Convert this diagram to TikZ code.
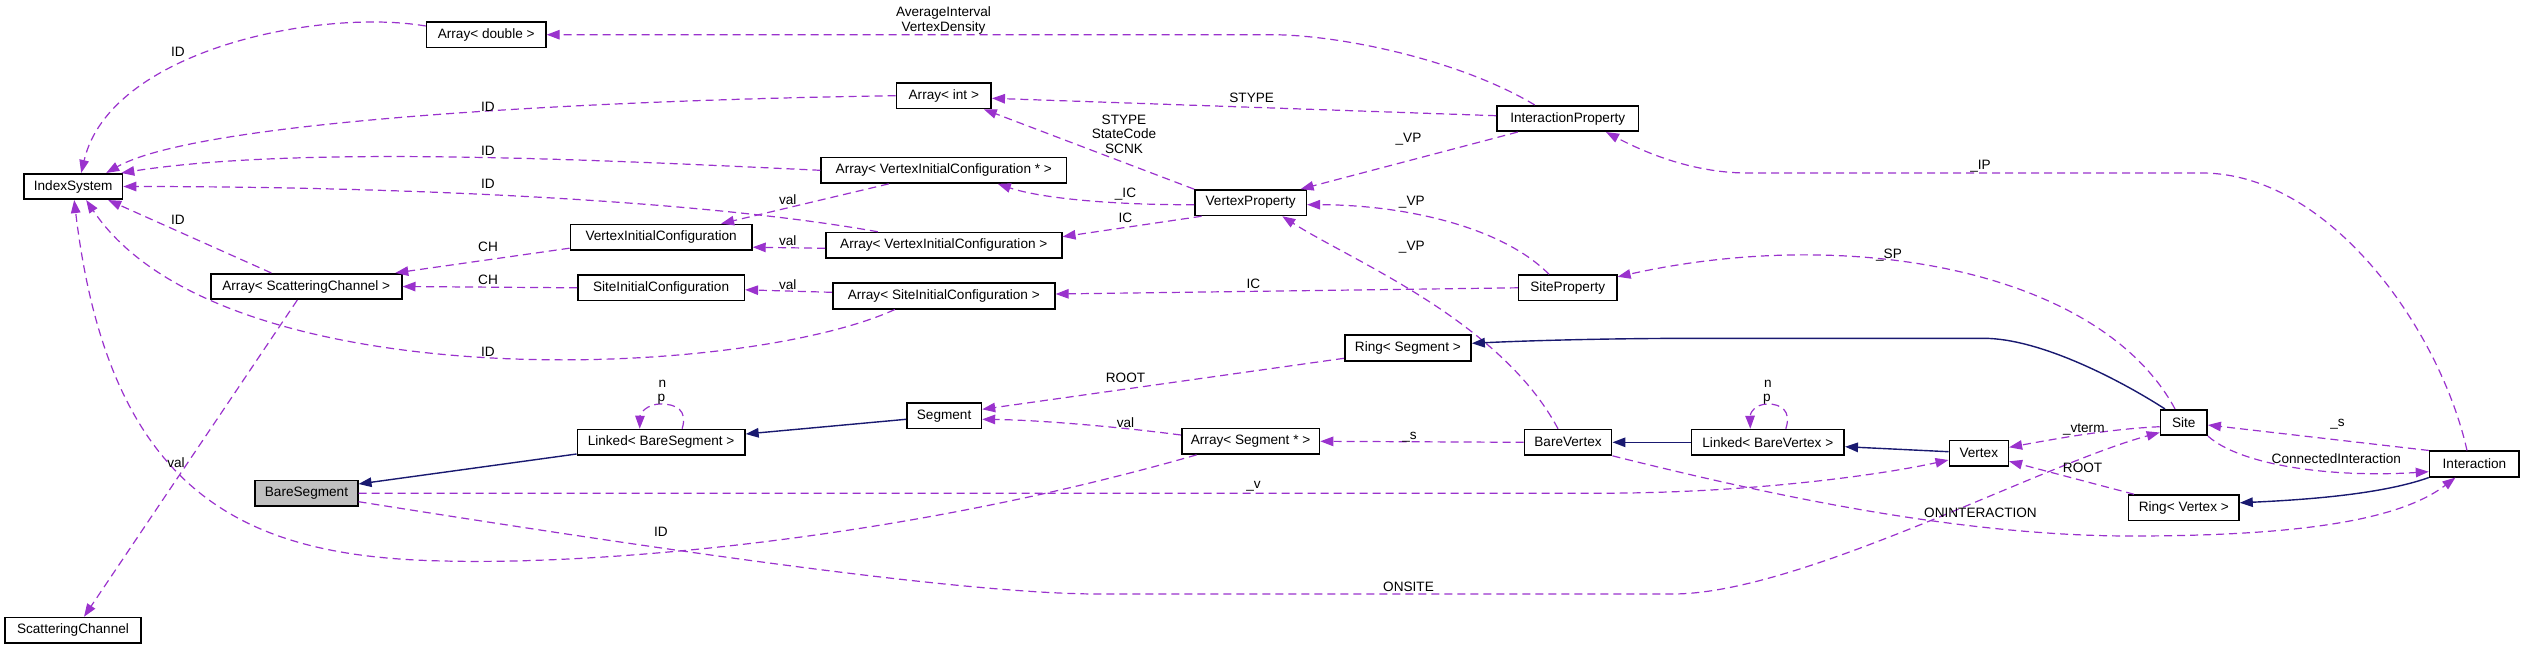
\documentclass[tikz,border=0pt]{standalone}
\usepackage{fontspec}
\setmainfont{Liberation Sans}
\usetikzlibrary{arrows.meta}
\definecolor{usec}{HTML}{9A32CD}
\definecolor{inhc}{HTML}{191970}
\definecolor{boxg}{HTML}{BFBFBF}
\tikzset{
  box/.style={draw=black, line width=1.6pt, fill=white, minimum height=25.5pt, inner sep=0pt,
    font=\fontsize{13.6}{15}\selectfont},
  lbl/.style={inner sep=0pt, font=\fontsize{13.6}{15}\selectfont, align=center},
  use/.style={draw=usec, line width=1.2pt, dash pattern=on 8pt off 5pt,
    -{Triangle[length=13pt,width=9.5pt]}},
  inh/.style={draw=inhc, line width=1.4pt, -{Triangle[length=13pt,width=9.5pt]}},
}
\begin{document}
\begin{tikzpicture}[x=1pt,y=-1pt]
\useasboundingbox (0,0) rectangle (2525,649);
% nodes
\node[box,minimum width=98.6pt] (IS) at (73.2,186.5) {IndexSystem};
\node[box,minimum width=119.3pt] (AD) at (486.2,34.7) {Array< double >};
\node[box,minimum width=94.8pt] (AI) at (943.8,95.7) {Array< int >};
\node[box,minimum width=141.8pt] (IP) at (1567.7,118.5) {InteractionProperty};
\node[box,minimum width=245.1pt] (AVp) at (943.8,170.3) {Array< VertexInitialConfiguration * >};
\node[box,minimum width=111.4pt] (VP) at (1250.6,202.7) {VertexProperty};
\node[box,minimum width=181.6pt] (VIC) at (661.1,237.2) {VertexInitialConfiguration};
\node[box,minimum width=235.9pt] (AV) at (943.8,245.3) {Array< VertexInitialConfiguration >};
\node[box,minimum width=190.8pt] (ASC) at (306.3,286.5) {Array< ScatteringChannel >};
\node[box,minimum width=166.4pt] (SIC) at (661.1,287.8) {SiteInitialConfiguration};
\node[box,minimum width=222.1pt] (AS) at (943.8,296) {Array< SiteInitialConfiguration >};
\node[box,minimum width=98.2pt] (SP) at (1567.7,287.8) {SiteProperty};
\node[box,minimum width=126.3pt] (RS) at (1407.9,348) {Ring< Segment >};
\node[box,minimum width=74.6pt] (Seg) at (944.1,415.8) {Segment};
\node[box,minimum width=167.5pt] (LBS) at (661.1,442.3) {Linked< BareSegment >};
\node[box,minimum width=137.8pt] (ASP) at (1250.6,441.3) {Array< Segment * >};
\node[box,minimum width=87.3pt] (BV) at (1568,442.3) {BareVertex};
\node[box,minimum width=152.8pt] (LBV) at (1767.8,442.3) {Linked< BareVertex >};
\node[box,minimum width=59pt] (V) at (1978.8,453.3) {Vertex};
\node[box,minimum width=46.6pt] (S) at (2183.8,422.5) {Site};
\node[box,minimum width=89.7pt] (I) at (2474.4,464) {Interaction};
\node[box,minimum width=110.4pt] (RV) at (2183.8,507.8) {Ring< Vertex >};
\node[box,fill=boxg,minimum width=102.5pt] (BS) at (306.5,493.2) {BareSegment};
\node[box,minimum width=136pt] (SC) at (73,630.3) {ScatteringChannel};
% usage edges to IndexSystem
\draw[use] ([yshift=8.7pt]AD.west) .. controls (320,8) and (110,50) .. ([xshift=8pt]IS.north);
\draw[use] (AI.west) .. controls (600,100) and (200,120) .. ([xshift=33pt]IS.north);
\draw[use] (AVp.west) .. controls (600,160) and (300,145) .. ([xshift=-2pt]IS.north east);
\draw[use] ([xshift=-66pt]AV.north) .. controls (700,200) and (400,186.5) .. (IS.east);
\draw[use] ([xshift=-35pt]ASC.north) -- ([xshift=35pt]IS.south);
\draw[use] ([xshift=-49pt]AS.south) .. controls (740,380) and (220,400) .. ([xshift=13pt]IS.south);
\draw[use] ([xshift=-54pt]ASP.south) .. controls (900,540) and (600,565) .. (444,561)
  .. controls (250,557) and (110,500) .. ([xshift=1pt]IS.south);
% other usage edges
\draw[use] ([yshift=-11pt]VIC.west) -- ([xshift=89pt]ASC.north);
\draw[use] (SIC.west) -- (ASC.east);
\draw[use] ([xshift=-55pt]AVp.south) -- ([xshift=60pt]VIC.north);
\draw[use] ([yshift=-3pt]AV.west) -- ([yshift=-10pt]VIC.east);
\draw[use] ([yshift=3.7pt]AS.west) -- ([yshift=-2pt]SIC.east);
\draw[use] ([xshift=-33pt]IP.north) .. controls (1460,60) and (1340,34.7) .. (1271,34.7) -- (AD.east);
\draw[use] ([yshift=2.8pt]IP.west) -- ([yshift=-2.6pt]AI.east);
\draw[use] (VP.north west) -- ([xshift=40pt]AI.south);
\draw[use] ([xshift=-50pt]IP.south) -- ([xshift=50pt]VP.north);
\draw[use] ([yshift=-2pt]VP.west) .. controls (1110,205) and (1040,198) .. ([xshift=54pt]AVp.south);
\draw[use] ([xshift=-49pt]VP.south) -- ([yshift=8.6pt]AV.east);
\draw[use] ([xshift=-18.7pt]SP.north) .. controls (1500,225) and (1400,204.7) .. ([yshift=-2pt]VP.east);
\draw[use] ([xshift=-10pt]BV.north) .. controls (1500,320) and (1350,260) .. ([xshift=31.7pt]VP.south);
\draw[use] (SP.west) -- ([yshift=2pt]AS.east);
\draw[use] ([xshift=-7.4pt]I.north) .. controls (2440,330) and (2330,173) .. (2201.8,173) -- (1747.5,173)
  .. controls (1690,173) and (1640,150) .. ([xshift=38.3pt]IP.south);
\draw[use] ([xshift=-8.8pt]S.north) .. controls (2100,270) and (1850,225) .. ([yshift=11pt]SP.east);
\draw[use] ([yshift=-10.3pt]RS.west) -- ([yshift=6.5pt]Seg.east);
\draw[use] ([yshift=6.3pt]ASP.west) .. controls (1120,427) and (1040,420) .. ([yshift=-3.5pt]Seg.east);
\draw[use] (BV.west) -- (ASP.east);
\draw[use] ([xshift=21pt]LBS.north) .. controls (688,410) and (676,404) .. (661,404)
  .. controls (646,404) and (640,414) .. ([xshift=-21.4pt]LBS.north);
\draw[use] (BS.east) -- (1600,493.2) .. controls (1750,493.2) and (1880,475) .. ([yshift=-6.7pt]V.west);
\draw[use] ([yshift=-8.5pt]BS.east) .. controls (600,540) and (950,594) .. (1098.5,594) -- (1672.5,594)
  .. controls (1800,594) and (2040,465) .. ([yshift=-10pt]S.west);
\draw[use] (BV.south east) .. controls (1750,490) and (1950,536) .. (2131,536)
  .. controls (2300,536) and (2400,520) .. ([xshift=-19pt]I.south);
\draw[use] ([xshift=18pt]LBV.north) .. controls (1792,410) and (1780,404) .. (1768,404)
  .. controls (1754,404) and (1750,414) .. ([xshift=-17.5pt]LBV.north);
\draw[use] ([yshift=-4.2pt]S.west) .. controls (2110,429) and (2060,438) .. ([yshift=6pt]V.east);
\draw[use] ([xshift=-49.8pt]RV.north) -- ([yshift=-8pt]V.east);
\draw[use] (I.north west) -- ([yshift=-2.5pt]S.east);
\draw[use] (S.south east) .. controls (2240,465) and (2330,478) .. ([yshift=-7.7pt]I.west);
\draw[use] ([xshift=-9pt]ASC.south) -- ([xshift=11pt]SC.north);
% inheritance edges
\draw[inh] ([yshift=-3.5pt]Seg.west) -- ([yshift=8.3pt]LBS.east);
\draw[inh] ([yshift=-11.7pt]LBS.west) -- ([yshift=9.2pt]BS.east);
\draw[inh] ([xshift=-18.8pt]S.north) .. controls (2120,380) and (2040,338.3) .. (1983.5,338.3) -- (1700,338.3)
  .. controls (1600,338.3) and (1520,341) .. ([yshift=4.7pt]RS.east);
\draw[inh] (LBV.west) -- (BV.east);
\draw[inh] ([yshift=1.6pt]V.west) -- ([yshift=-4.4pt]LBV.east);
\draw[inh] (I.south west) .. controls (2380,495) and (2300,500) .. ([yshift=5pt]RV.east);
% labels
\node[lbl] (l1) at (178,52) {ID};
\node[lbl] (l2) at (488,107) {ID};
\node[lbl] (l3) at (488,150.7) {ID};
\node[lbl] (l4) at (488,184.3) {ID};
\node[lbl] (l5) at (178,220) {ID};
\node[lbl] (l6) at (488,351.7) {ID};
\node[lbl] (l7) at (661,531.7) {ID};
\node[lbl] (l8) at (488,247.3) {CH};
\node[lbl] (l9) at (488,280) {CH};
\node[lbl] (l10) at (787.7,200) {val};
\node[lbl] (l11) at (787.7,240.7) {val};
\node[lbl] (l12) at (787.7,285) {val};
\node[lbl] (l13) at (943.5,20.2) {AverageInterval\\VertexDensity};
\node[lbl] (l14) at (1251.7,98.3) {STYPE};
\node[lbl,font=\fontsize{13.6}{14.5}\selectfont] (l15) at (1124,134) {STYPE\\StateCode\\SCNK};
\node[lbl] (l16) at (1408.5,139.3) {\_VP};
\node[lbl] (l17) at (1125.5,194.3) {\_IC};
\node[lbl] (l18) at (1125.5,218.3) {IC};
\node[lbl] (l19) at (1411.8,201.7) {\_VP};
\node[lbl] (l20) at (1411.8,246.7) {\_VP};
\node[lbl] (l21) at (1253.5,284) {IC};
\node[lbl] (l22) at (1980.5,165.7) {\_IP};
\node[lbl] (l23) at (1889,255) {\_SP};
\node[lbl] (l24) at (1125.5,378.3) {ROOT};
\node[lbl] (l25) at (1125.5,422.7) {val};
\node[lbl] (l26) at (1409.5,436.7) {\_s};
\node[lbl] (l27) at (662.5,384) {n};
\node[lbl] (l28) at (661.4,399.3) {p};
\node[lbl] (l29) at (1253.5,486.7) {\_v};
\node[lbl] (l30) at (1408.5,586.7) {ONSITE};
\node[lbl] (l31) at (1980.5,512.7) {ONINTERACTION};
\node[lbl] (l32) at (1768,384) {n};
\node[lbl] (l33) at (1767,399.3) {p};
\node[lbl] (l34) at (2083.8,429) {\_vterm};
\node[lbl] (l35) at (2082.6,468.3) {ROOT};
\node[lbl] (l36) at (2337.5,424.3) {\_s};
\node[lbl] (l37) at (2336.3,458.3) {ConnectedInteraction};
\node[lbl] (l38) at (176,463) {val};
\end{tikzpicture}
\end{document}
